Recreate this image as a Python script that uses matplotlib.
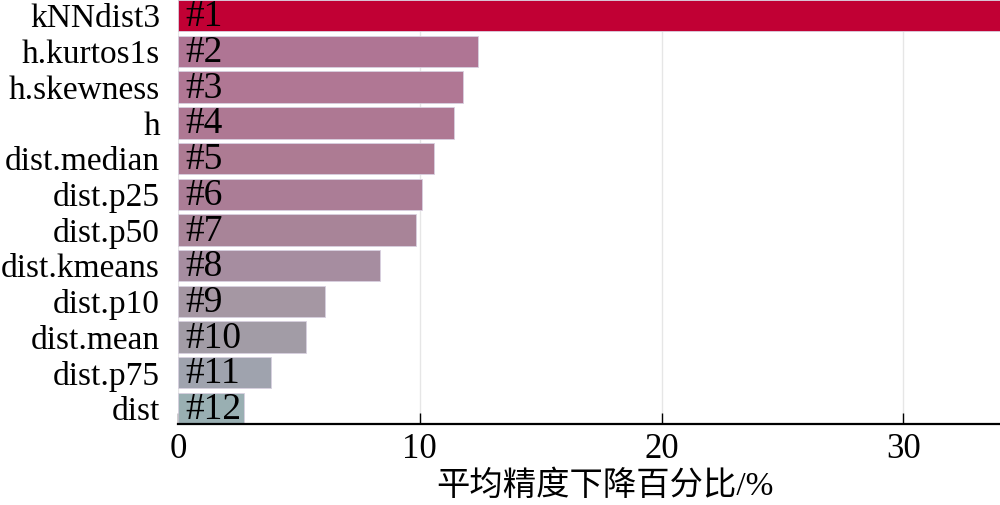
import matplotlib
matplotlib.use('Agg')
import matplotlib.pyplot as plt

### feature names, importance values (mean accuracy decrease, %) and bar colours
features = ['kNNdist3', 'h.kurtos1s', 'h.skewness', 'h', 'dist.median', 'dist.p25',
            'dist.p50', 'dist.kmeans', 'dist.p10', 'dist.mean', 'dist.p75', 'dist']
importance = [34.0, 12.4, 11.8, 11.4, 10.6, 10.1, 9.85, 8.35, 6.1, 5.3, 3.85, 2.75]
ranks = ['#1', '#2', '#3', '#4', '#5', '#6', '#7', '#8', '#9', '#10', '#11', '#12']
bar_colors = ['#C10034', '#AF7594', '#B07794', '#AE7893', '#AD7B93', '#AB7D96',
              '#A88498', '#A68DA0', '#A597A3', '#A29CA6', '#9FA3AE', '#99AFB2']
x_ticks = [0, 10, 20, 30]

plt.rcParams['font.family'] = ['Liberation Serif', 'Noto Sans CJK SC']
plt.rcParams['font.size'] = 24

fig = plt.figure(figsize=(10, 5.05), dpi=100)
ax = fig.add_axes([0.178, 0.160, 0.822, 0.840])

y_pos = list(range(len(features)))

### vertical grid behind the bars
ax.set_axisbelow(True)
ax.grid(axis='x', color='#E6E6E6', linewidth=1.0)

ax.barh(y_pos, importance, height=0.88, color=bar_colors,
        edgecolor='#D8D0E0', linewidth=0.6)

### rank labels inside each bar
for i, r in enumerate(ranks):
    ax.annotate(r, xy=(0, y_pos[i]), xytext=(5, -1), textcoords='offset points',
                va='center', ha='left', fontsize=27, color='black')

ax.set_ylim(len(features) - 1 + 0.44, -0.44)
ax.set_xlim(0, 34.0)
ax.set_yticks(y_pos)
ax.set_yticklabels(features, fontsize=24)
ax.set_xticks(x_ticks)
ax.set_xticklabels([str(t) for t in x_ticks], fontsize=25)

ax.tick_params(axis='y', length=0, pad=13)
ax.tick_params(axis='x', direction='in', length=8, width=1.0, pad=6)

for s in ['top', 'right', 'left']:
    ax.spines[s].set_visible(False)
ax.spines['bottom'].set_linewidth(1.6)

ax.set_xlabel('平均精度下降百分比/%', fontsize=24)
ax.xaxis.set_label_coords((605 - 178) / 822.0, -0.11)

plt.savefig('out.png', dpi=100)
